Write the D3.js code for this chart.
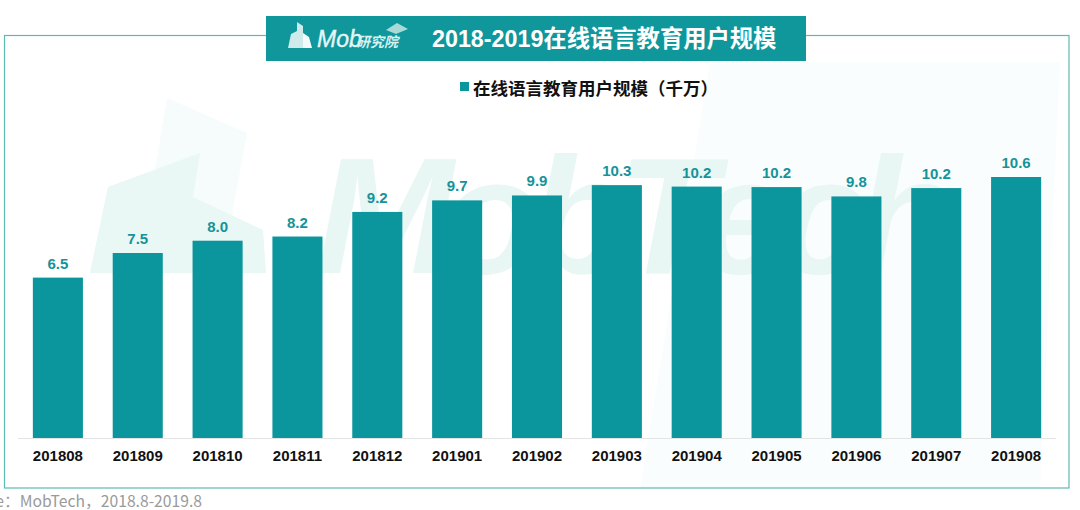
<!DOCTYPE html>
<html>
<head>
    <meta charset="utf-8">
    <title>2018-2019在线语言教育用户规模</title>
    <script src="https://d3js.org/d3.v7.min.js"></script>
    <style>
        html, body {
            margin: 0;
            padding: 0;
            background: #fff;
            overflow: hidden;
        }

        svg {
            display: block;
        }

        text {
            font-family: "Liberation Sans", "Noto Sans CJK SC", sans-serif;
        }

        .cjk {
            font-family: "Liberation Sans", "Noto Sans CJK SC", sans-serif;
            font-weight: 700;
        }

        .x-axis path,
        .x-axis line {
            display: none;
        }

        .x-axis text {
            font-size: 15px;
            font-weight: 700;
            fill: #111;
        }
    </style>
</head>

<body>
    <svg id="chart" width="1080" height="510"></svg>
    <script>
        // values (unit: 千万)
        const months = ["201808", "201809", "201810", "201811", "201812", "201901", "201902",
            "201903", "201904", "201905", "201906", "201907", "201908"];
        const users = [6.52, 7.52, 8.02, 8.19, 9.19, 9.66, 9.86, 10.28, 10.22, 10.2, 9.82, 10.16, 10.61];
        const labels = ["6.5", "7.5", "8.0", "8.2", "9.2", "9.7", "9.9", "10.3", "10.2", "10.2", "9.8", "10.2", "10.6"];

        const titleText = "2018-2019在线语言教育用户规模";
        const legendText = "在线语言教育用户规模（千万）";
        const sourceText = "Source：MobTech，2018.8-2019.8";

        const teal = "#0b969d";
        const svg = d3.select("#chart");

        // panel, faint tint on the right side
        svg.append("path")
            .attr("d", "M710,62L1060,62L1040,488L640,488Z")
            .attr("fill", "#fafdfd");

        // watermark logo
        const mark = svg.append("g");
        mark.append("path")
            .attr("d", "M167,98L247,133L232,215L263,231L90,273L108,187L155,170Z")
            .attr("fill", "#f6fcfb");
        mark.append("path")
            .attr("d", "M108,187L200,153L193,197L263,230L266,273L90,273Z")
            .attr("fill", "#e9f7f5");
        mark.append("text")
            .attr("x", 316)
            .attr("y", 273)
            .attr("textLength", 640)
            .attr("lengthAdjust", "spacing")
            .attr("font-size", 165)
            .attr("font-style", "italic")
            .attr("font-weight", 700)
            .attr("fill", "#e8f6f4")
            .text("MobTech");

        // frame, the title band sits over its top edge
        svg.append("rect")
            .attr("x", 4.5)
            .attr("y", 35.5)
            .attr("width", 1064.5)
            .attr("height", 452.5)
            .attr("fill", "none")
            .attr("stroke", "#5fb9b3")
            .attr("stroke-width", 1.2);

        svg.append("rect")
            .attr("x", 266)
            .attr("y", 16)
            .attr("width", 540)
            .attr("height", 45)
            .attr("fill", "#0f979c");

        // logo in the band
        svg.append("path")
            .attr("d", "M288,48L291,34L297,31L297,22L303,26L303,48Z")
            .attr("fill", "#cfeaea");
        svg.append("path")
            .attr("d", "M303,48L303,33L309,37L312,48Z")
            .attr("fill", "#f2fafa");
        svg.append("path")
            .attr("d", "M386,30L397,23L408,29L396,34Z")
            .attr("fill", "#a9d9d9");
        svg.append("text")
            .attr("x", 317)
            .attr("y", 47)
            .attr("font-size", 23)
            .attr("font-style", "italic")
            .attr("fill", "#e6f6f6")
            .attr("stroke", "#e6f6f6")
            .attr("stroke-width", 0.4)
            .text("Mob");
        svg.append("text")
            .attr("x", 356)
            .attr("y", 47)
            .attr("font-size", 14)
            .attr("font-style", "italic")
            .attr("font-weight", 700)
            .attr("fill", "#d8f0f0")
            .text("研究院");

        svg.append("text")
            .attr("class", "cjk")
            .attr("x", 432)
            .attr("y", 47)
            .attr("font-size", 23.3)
            .attr("fill", "#fff")
            .text(titleText);

        // legend
        svg.append("rect")
            .attr("x", 460)
            .attr("y", 82)
            .attr("width", 9)
            .attr("height", 9)
            .attr("fill", teal);
        svg.append("text")
            .attr("class", "cjk")
            .attr("x", 473)
            .attr("y", 95)
            .attr("font-size", 17.5)
            .attr("fill", "#111")
            .text(legendText);

        // scales
        const x = d3.scaleBand()
            .domain(months)
            .range([18, 1056])
            .paddingInner(0.373)
            .paddingOuter(0.186);

        const y = d3.scaleLinear()
            .domain([0, 10.61])
            .range([438, 177]);

        svg.append("g")
            .selectAll("rect")
            .data(users)
            .join("rect")
            .attr("x", (d, i) => x(months[i]))
            .attr("y", d => y(d))
            .attr("width", x.bandwidth())
            .attr("height", d => y(0) - y(d))
            .attr("fill", teal);

        svg.append("g")
            .selectAll("text")
            .data(users)
            .join("text")
            .attr("x", (d, i) => x(months[i]) + x.bandwidth() / 2)
            .attr("y", d => y(d) - 9)
            .attr("text-anchor", "middle")
            .attr("font-size", 15)
            .attr("font-weight", 700)
            .attr("fill", "#14939a")
            .text((d, i) => labels[i]);

        // baseline
        svg.append("line")
            .attr("x1", 18)
            .attr("x2", 1056)
            .attr("y1", 438.5)
            .attr("y2", 438.5)
            .attr("stroke", "#e4e4e4");

        svg.append("g")
            .attr("class", "x-axis")
            .attr("transform", "translate(0,438)")
            .call(d3.axisBottom(x).tickSize(0).tickPadding(12));

        // source line runs off the left edge in the original
        svg.append("text")
            .attr("x", 202)
            .attr("y", 507)
            .attr("text-anchor", "end")
            .attr("font-size", 15.7)
            .attr("fill", "#9a9a9a")
            .style("font-family", "'Noto Sans CJK SC', sans-serif")
            .text(sourceText);
    </script>
</body>
</html>
